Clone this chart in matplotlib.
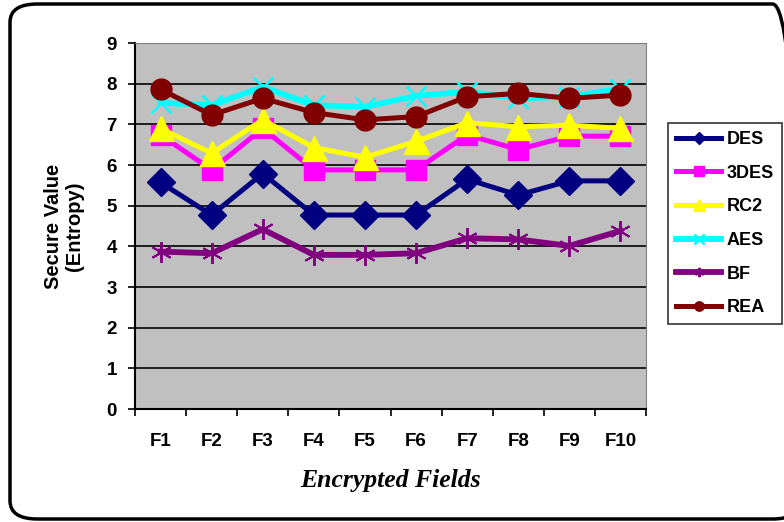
import matplotlib.pyplot as plt
from matplotlib.patches import FancyBboxPatch

fields = ["F1", "F2", "F3", "F4", "F5", "F6", "F7", "F8", "F9", "F10"]
des = [5.57, 4.77, 5.79, 4.77, 4.77, 4.77, 5.65, 5.26, 5.61, 5.61]
des3 = [6.74, 5.88, 6.90, 5.88, 5.88, 5.88, 6.74, 6.38, 6.71, 6.71]
rc2 = [6.90, 6.29, 7.11, 6.43, 6.19, 6.58, 7.04, 6.94, 6.98, 6.90]
aes = [7.53, 7.47, 7.92, 7.47, 7.43, 7.70, 7.80, 7.64, 7.68, 7.88]
bf = [3.87, 3.83, 4.42, 3.79, 3.79, 3.83, 4.20, 4.17, 4.01, 4.38]
rea = [7.86, 7.23, 7.64, 7.29, 7.11, 7.19, 7.68, 7.76, 7.64, 7.72]

plt.rcParams['font.family'] = ['Liberation Sans', 'DejaVu Sans']

fig = plt.figure(figsize=(7.84, 5.22), dpi=100)
# rounded outer frame
fig.patches.append(FancyBboxPatch((10 / 784, 3 / 522), 790 / 784, 515 / 522,
                                  boxstyle="round,pad=0,rounding_size=0.035",
                                  transform=fig.transFigure, fill=False,
                                  edgecolor='black', linewidth=2.5, clip_on=False))

ax = fig.add_axes([135 / 784, 113 / 522, 511 / 784, 366 / 522])
ax.set_facecolor('#C0C0C0')
x = list(range(len(fields)))

ax.plot(x, des, color='#000080', lw=3.6, marker='D', ms=14, label='DES')
ax.plot(x, des3, color='#FF00FF', lw=3.6, marker='s', ms=15, label='3DES')
ax.plot(x, rc2, color='#FFFF00', lw=3.6, marker='^', ms=18, label='RC2')
ax.plot(x, aes, color='#00FFFF', lw=4.2, marker='x', ms=15, mew=1.8, label='AES')
ax.plot(x, bf, color='#800080', lw=4.2, marker=(6, 2, 0), ms=15, mew=1.4, label='BF')
ax.plot(x, rea, color='#800000', lw=3.6, marker='o', ms=15, label='REA')

ax.set_xlim(-0.5, 9.5)
ax.set_ylim(0, 9)
ax.set_yticks(range(10))
ax.set_xticks(x)
ax.set_xticklabels(fields)
ax.set_xticks([i - 0.5 for i in range(11)], minor=True)
ax.tick_params(axis='x', which='major', length=0, pad=17)
ax.tick_params(axis='x', which='minor', length=5, width=1.2)
ax.tick_params(axis='y', length=5, width=1.2, pad=8)
for lab in ax.get_xticklabels() + ax.get_yticklabels():
    lab.set_fontsize(13.5)
    lab.set_fontweight('bold')
ax.grid(axis='y', color='black', lw=1.2)
ax.set_axisbelow(True)
ax.spines['left'].set_linewidth(1.5)
ax.spines['bottom'].set_linewidth(1.5)
ax.spines['top'].set_color('#808080')
ax.spines['right'].set_color('#808080')

ax.set_ylabel("Secure Value\n(Entropy)", fontsize=14.5, fontweight='bold', linespacing=1.15)
ax.yaxis.set_label_coords(-0.10, 0.5)
ax.set_xlabel("Encrypted Fields", fontsize=18.5, fontweight='bold', style='italic',
              family='Liberation Serif')
ax.xaxis.set_label_coords(0.5, -0.165)

leg = ax.legend(loc='upper left', bbox_to_anchor=(668 / 784, 399 / 522),
                bbox_transform=fig.transFigure, frameon=True, fancybox=False,
                edgecolor='black', prop={'weight': 'bold', 'size': 13},
                handlelength=2.5, markerscale=0.45, labelspacing=0.92,
                borderpad=0.45, handletextpad=0.3, borderaxespad=0)
leg.get_frame().set_linewidth(1.2)

fig.savefig("out.png", dpi=100)
